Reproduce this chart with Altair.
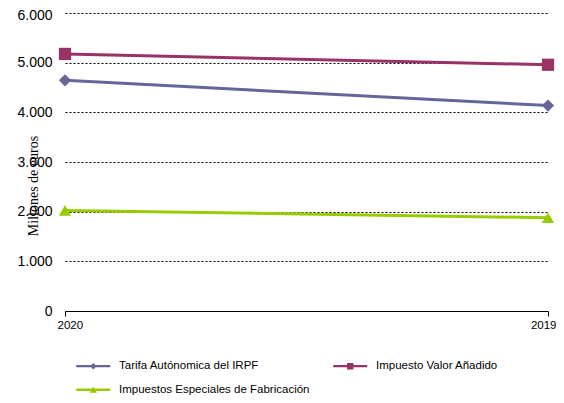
import altair as alt
import pandas as pd

series = ["Tarifa Autónomica del IRPF", "Impuesto Valor Añadido", "Impuestos Especiales de Fabricación"]
years = ["2020", "2019"]
tarifa = [4645, 4136]
iva = [5176, 4958]
especiales = [2025, 1878]
colors = ["#666699", "#993366", "#99CC00"]
y_ticks = [0, 1000, 2000, 3000, 4000, 5000, 6000]
shapes = ["diamond", "square", "triangle-up"]

bar = "M-3.4,-0.24H3.4V0.24H-3.4Z"
legend_paths = [
    bar + "M-0.65,0L0,-0.65L0.65,0L0,0.65Z",
    bar + "M-0.65,-0.65H0.65V0.65H-0.65Z",
    bar + "M0,-0.65L0.72,0.6H-0.72Z",
]

rows = []
for s, vals in zip(series, [tarifa, iva, especiales]):
    for yr, v in zip(years, vals):
        rows.append({"serie": s, "anio": yr, "valor": v})
df = pd.DataFrame(rows)

x = alt.X(
    "anio:O", sort=years,
    scale=alt.Scale(type="point", padding=0),
    axis=alt.Axis(title=None, labelAngle=0, domainColor="black", domainWidth=1,
                  tickColor="black", tickSize=5, labelFontSize=11.5,
                  labelFont="Liberation Sans", labelColor="black", labelPadding=3, grid=False,
                  labelFlush=True, labelFlushOffset=8),
)
y = alt.Y(
    "valor:Q",
    scale=alt.Scale(domain=[0, 6000], nice=False),
    axis=alt.Axis(values=y_ticks, title="Millones de euros", domain=False, ticks=False,
                  grid=True, gridColor="black", gridDash=[2, 2], gridWidth=1,
                  labelFont="Liberation Sans", labelFontSize=14, labelColor="black",
                  labelPadding=13,
                  labelOffset={"condition": {"test": "datum.value == 6000", "value": 2}, "value": 0},
                  labelExpr="replace(format(datum.value, ','), ',', '.')",
                  titleFont="Liberation Serif", titleFontSize=14, titleFontWeight="normal",
                  titleColor="black", titleX=-27.5, titleY=172.5, titleAngle=270,
                  titleAlign="center", titleBaseline="alphabetic"),
)

color_plain = alt.Color("serie:N", scale=alt.Scale(domain=series, range=colors), legend=None)

lines = alt.Chart(df).mark_line(strokeWidth=3).encode(x=x, y=y, color=color_plain)
points = alt.Chart(df).mark_point(filled=True, opacity=1, size=150).encode(
    x=x, y=y, color=color_plain,
    shape=alt.Shape("serie:N", scale=alt.Scale(domain=series, range=shapes), legend=None),
)

leg = dict(orient="none", legendX=22.5, legendY=347, title=None, columns=2, direction="horizontal",
           labelFont="Liberation Sans", labelFontSize=11.5, labelColor="black", labelLimit=400,
           columnPadding=23, rowPadding=11, symbolOffset=0, labelOffset=20, padding=0,
           symbolStrokeWidth=0)

legend_layer = alt.Chart(df).transform_filter("false").mark_point(
    filled=True, opacity=1, size=196).encode(
    x=x, y=y,
    color=alt.Color("serie:N", scale=alt.Scale(domain=series, range=colors), legend=alt.Legend(**leg)),
    shape=alt.Shape("serie:N", scale=alt.Scale(domain=series, range=legend_paths), legend=alt.Legend(**leg)),
)

chart = alt.layer(lines, points, legend_layer).resolve_scale(
    shape="independent", color="independent"
).properties(
    width=483, height=298,
    padding={"left": 57, "top": 5, "right": 8, "bottom": 90},
    autosize=alt.AutoSizeParams(type="none"),
).configure_view(stroke=None)

chart.save("out.html", embed_options={"renderer": "svg", "actions": False})
